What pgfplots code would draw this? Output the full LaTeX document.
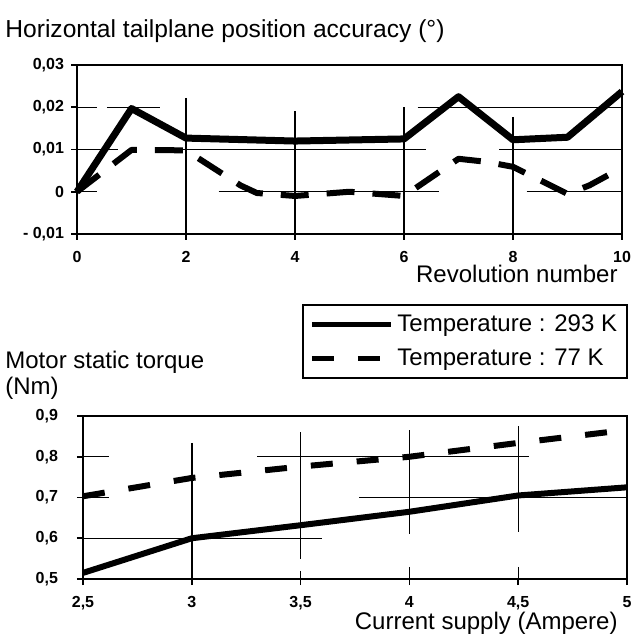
\documentclass[border=0pt]{standalone}
\usepackage{fontspec}
\setmainfont{Liberation Sans}
\usepackage{pgfplots}
\pgfplotsset{compat=1.18}

\pgfplotsset{
  scan/.style={
    scale only axis,
    axis line style={line width=1pt},
    tick style={black, line width=0.8pt},
    tick align=outside, tick pos=left, major tick length=3pt,
    ticklabel style={font=\fontsize{8}{9}\selectfont\bfseries},
    scaled ticks=false,
    clip=false,
  },
  gridseg/.style={black, line width=0.7pt, forget plot, unbounded coords=jump},
}

\begin{document}
\begin{tikzpicture}
\useasboundingbox (0,0) rectangle (317pt,-317.5pt);

% ---- upper chart: position accuracy ----
\begin{axis}[scan,
  at={(38.5pt,-117pt)}, anchor=south west,
  width=272.5pt, height=84.5pt,
  xmin=0, xmax=10, ymin=-0.01, ymax=0.03,
  xtick={0,2,4,6,8,10},
  xticklabels={0,2,4,6,8,10},
  ytick={-0.01,0,0.01,0.02,0.03},
  yticklabels={{- 0,01},{0},{0,01},{0,02},{0,03}},
  xticklabel style={yshift=-2pt},
]
\addplot[gridseg] coordinates {
  (0,0.02) (0.36,0.02) (nan,nan) (0.55,0.02) (1.53,0.02) (nan,nan)
  (6.25,0.02) (10,0.02) (nan,nan)
  (0,0.01) (0.75,0.01) (nan,nan) (1.93,0.01) (6.4,0.01) (nan,nan)
  (7.75,0.01) (10,0.01) (nan,nan)
  (0,0) (0.37,0) (nan,nan) (2.6,0) (6.65,0) (nan,nan) (8.25,0) (10,0)
};
\addplot[gridseg] coordinates {
  (2,0.0222) (2,-0.01) (nan,nan) (4,0.019) (4,-0.01) (nan,nan)
  (6,0.020) (6,-0.01) (nan,nan) (8,0.0177) (8,-0.01)
};
\addplot[black, line width=3.5pt, line join=round] coordinates {
  (0,0) (1,0.0197) (2,0.0127) (4,0.0120) (6,0.0125) (7,0.0225)
  (8,0.0123) (9,0.0129) (10,0.0237)
};
\addplot[black, line width=3pt, dash pattern=on 14pt off 9pt, line join=round] coordinates {
  (0,0) (1,0.0099) (2,0.0098) (3,0.0015) (3.3,-0.0003) (4,-0.0010)
  (5,0) (6,-0.0010) (7,0.0078) (7.5,0.0071) (8,0.0059) (9,-0.0005)
  (9.4,0.0015) (10,0.0057)
};
\end{axis}

% ---- lower chart: motor static torque ----
\begin{axis}[scan,
  at={(41.5pt,-289.5pt)}, anchor=south west,
  width=272pt, height=81.5pt,
  xmin=2.5, xmax=5, ymin=0.5, ymax=0.9,
  xtick={2.5,3,3.5,4,4.5,5},
  xticklabels={{2,5},{3},{3,5},{4},{4,5},{5}},
  ytick={0.5,0.6,0.7,0.8,0.9},
  yticklabels={{0,5},{0,6},{0,7},{0,8},{0,9}},
  yticklabel style={xshift=-6pt},
  xticklabel style={yshift=-2pt},
  legend style={at={(1.002,1.687)}, anchor=north east, draw=black,
    line width=1pt, font=\fontsize{12}{14}\selectfont,
    cells={anchor=west}, row sep=3pt, inner xsep=3pt, inner ysep=3pt},
  legend image code/.code={\draw[#1, line width=2.5pt] (0pt,0pt) -- (39.5pt,0pt);},
]
\addplot[gridseg] coordinates {
  (2.5,0.8) (2.62,0.8) (nan,nan) (3.3,0.8) (4.55,0.8) (nan,nan)
  (2.5,0.7) (2.62,0.7) (nan,nan) (3.77,0.7) (5,0.7) (nan,nan)
  (2.5,0.6) (3.6,0.6)
};
\addplot[gridseg] coordinates {
  (3,0.834) (3,0.5) (nan,nan)
  (3.5,0.86) (3.5,0.55) (nan,nan) (3.5,0.52) (3.5,0.5) (nan,nan)
  (4,0.865) (4,0.61) (nan,nan) (4,0.53) (4,0.5) (nan,nan)
  (4.5,0.875) (4.5,0.615) (nan,nan) (4.5,0.53) (4.5,0.5)
};
\addplot[black, line width=3pt, line join=round] coordinates {
  (2.5,0.515) (3,0.600) (3.5,0.632) (4,0.665) (4.5,0.705) (5,0.725)
};
\addlegendentry{Temperature : 293 K}
\addplot[black, line width=3pt, dash pattern=on 11pt off 12pt] coordinates {
  (2.5,0.703) (3,0.748) (3.5,0.776) (4,0.800) (4.5,0.834) (5,0.866)
};
\addlegendentry{Temperature : 77 K}
\end{axis}

% ---- titles and axis names ----
\node[anchor=base west, font=\fontsize{12.3}{14}\selectfont, inner sep=0pt]
  at (2.5pt,-19pt) {Horizontal tailplane position accuracy (°)};
\node[anchor=base east, font=\fontsize{12}{14}\selectfont, inner sep=0pt]
  at (309pt,-141.5pt) {Revolution number};
\node[anchor=base west, font=\fontsize{12}{14}\selectfont, inner sep=0pt]
  at (2.5pt,-184pt) {Motor static torque};
\node[anchor=base west, font=\fontsize{12}{14}\selectfont, inner sep=0pt]
  at (2.5pt,-197pt) {(Nm)};
\node[anchor=base east, font=\fontsize{12}{14}\selectfont, inner sep=0pt]
  at (309pt,-314.5pt) {Current supply (Ampere)};
\end{tikzpicture}
\end{document}
